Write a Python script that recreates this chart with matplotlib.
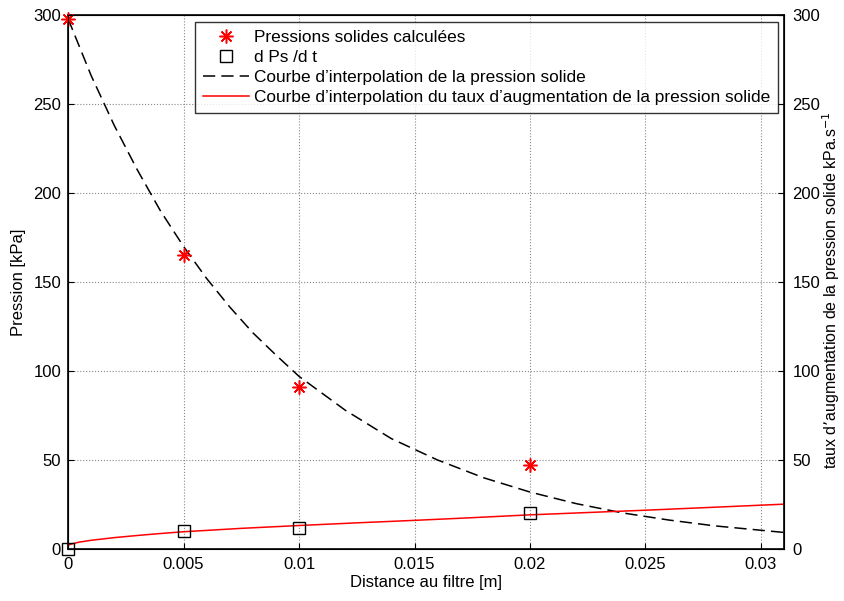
import matplotlib
matplotlib.use("Agg")
import matplotlib.pyplot as plt

plt.rcParams['font.family'] = ['Liberation Sans', 'DejaVu Sans']

# mesures
x_pts = [0, 0.005, 0.01, 0.02]
p_solide = [298, 165, 91, 47]
dps_dt = [0, 10, 12, 20]

# courbes d'interpolation
x_p = [0, 0.001, 0.002, 0.003, 0.004, 0.005, 0.006, 0.007, 0.008, 0.009, 0.01,
       0.012, 0.014, 0.016, 0.018, 0.02, 0.022, 0.024, 0.026, 0.028, 0.031]
p_interp = [298, 266, 238, 213, 190, 170, 152, 136, 121.5, 109, 97,
            78, 62, 50, 40, 32, 25.5, 20.3, 16.3, 13, 9.3]

x_t = [0, 0.0002, 0.0005, 0.001, 0.002, 0.003, 0.004, 0.005, 0.0075, 0.01,
       0.0125, 0.015, 0.0175, 0.02, 0.0225, 0.025, 0.0275, 0.031]
t_interp = [2.2, 3.0, 3.9, 4.9, 6.4, 7.6, 8.7, 9.7, 11.6, 13.2,
            14.7, 16.1, 17.6, 19.2, 20.5, 21.8, 23.2, 25.2]

fig = plt.figure(figsize=(8.44, 6.01), dpi=100)
ax = fig.add_axes([0.0806, 0.0865, 0.8484, 0.8885])

# asterisque facon matlab
h1, = ax.plot(x_pts, p_solide, marker=(8, 2, 0), color='red', markersize=10, markeredgewidth=1.1,
              linestyle='none', label='Pressions solides calculées', clip_on=False, zorder=5)
h2, = ax.plot(x_pts, dps_dt, 's', mfc='none', mec='black', markersize=9, markeredgewidth=1.0,
              linestyle='none', label='d Ps /d t', clip_on=False, zorder=5)
h3, = ax.plot(x_p, p_interp, '--', color='black', lw=1.1, dashes=(8, 4),
              label='Courbe d\u2019interpolation de la pression solide')
h4, = ax.plot(x_t, t_interp, '-', color='red', lw=1.1,
              label='Courbe d\u2019interpolation du taux d\u2019augmentation de la pression solide')

ax.set_xlim(0, 0.031)
ax.set_ylim(0, 300)
ax.set_xticks([0, 0.005, 0.01, 0.015, 0.02, 0.025, 0.03])
ax.set_xticklabels(['0', '0.005', '0.01', '0.015', '0.02', '0.025', '0.03'])
ax.set_yticks(range(0, 301, 50))
ax.grid(True, linestyle=':', color='#888888', lw=0.8)
ax.tick_params(direction='in', labelsize=12, length=4)
ax.tick_params(axis='x', pad=6)
ax.tick_params(axis='y', pad=5)
ax.set_xlabel('Distance au filtre [m]', fontsize=12, labelpad=2)
ax.set_ylabel('Pression [kPa]', fontsize=12, labelpad=5)
for s in ax.spines.values():
    s.set_linewidth(1.2)

ax2 = ax.twinx()
ax2.set_ylim(0, 300)
ax2.set_yticks(range(0, 301, 50))
ax2.tick_params(direction='in', labelsize=12, length=4, pad=6)
fig.text(0.985, 0.517, 'taux d\u2019augmentation de la pression solide kPa.s$^{-1}$',
         rotation=90, ha='center', va='center', fontsize=11.5)

leg = ax.legend(handles=[h1, h2, h3, h4], loc='upper right', bbox_to_anchor=(0.992, 0.987),
                fontsize=12.4, frameon=True, fancybox=False, edgecolor='black',
                borderaxespad=0, handlelength=2.7, handletextpad=0.3, borderpad=0.45,
                labelspacing=0.3)
leg.get_frame().set_linewidth(1.0)
leg.set_zorder(10)

fig.savefig('out.png', dpi=100)
